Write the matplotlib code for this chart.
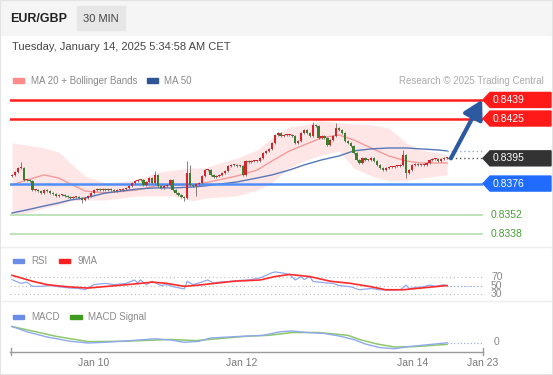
import matplotlib
matplotlib.use("Agg")
import matplotlib.pyplot as plt
from matplotlib.patches import Polygon, Rectangle, FancyArrowPatch
from matplotlib.lines import Line2D

plt.rcParams['font.family'] = ['Liberation Sans', 'DejaVu Sans']

W, H = 553, 375

# --- price data (30 min candles, close values) ---
closes = [
    0.83825, 0.83847, 0.83878, 0.83878, 0.83787, 0.83787, 0.83780, 0.83712, 0.83712, 0.83704,
    0.83689, 0.83712, 0.83704, 0.83689, 0.83682, 0.83667, 0.83674, 0.83674, 0.83667, 0.83659,
    0.83651, 0.83659, 0.83659, 0.83651, 0.83636, 0.83651, 0.83667, 0.83689, 0.83712, 0.83719,
    0.83712, 0.83719, 0.83712, 0.83719, 0.83712, 0.83704, 0.83712, 0.83712, 0.83719, 0.83727,
    0.83742, 0.83765, 0.83780, 0.83787, 0.83787, 0.83749, 0.83772, 0.83802, 0.83765, 0.83825,
    0.83742, 0.83727, 0.83742, 0.83749, 0.83787, 0.83712, 0.83689, 0.83674, 0.83659, 0.83651,
    0.83840, 0.83749, 0.83742, 0.83757, 0.83765, 0.83817, 0.83862, 0.83862, 0.83825, 0.83810,
    0.83817, 0.83825, 0.83840, 0.83855, 0.83893, 0.83900, 0.83900, 0.83893, 0.83893, 0.83825,
    0.83930, 0.83922, 0.83930, 0.83930, 0.83930, 0.83953, 0.83991, 0.84006, 0.84021, 0.84066,
    0.84126, 0.84141, 0.84119, 0.84126, 0.84126, 0.84126, 0.84119, 0.84066, 0.84081, 0.84141,
    0.84164, 0.84141, 0.84119, 0.84202, 0.84194, 0.84104, 0.84119, 0.84104, 0.84051, 0.84089,
    0.84119, 0.84179, 0.84164, 0.84141, 0.84081, 0.84066, 0.84043, 0.83991, 0.83938, 0.83915,
    0.83953, 0.83938, 0.83938, 0.83953, 0.83930, 0.83900, 0.83878, 0.83862, 0.83878, 0.83885,
    0.83885, 0.83893, 0.83893, 0.83900, 0.83976, 0.83840, 0.83862, 0.83900, 0.83908, 0.83900,
    0.83900, 0.83900, 0.83915, 0.83938, 0.83945, 0.83945, 0.83930, 0.83945, 0.83953, 0.83953,
]
first_open = 0.83820
wick = 0.00008
high_wicks = {3: 0.83920, 49: 0.83855, 60: 0.83930, 61: 0.83900, 103: 0.84224, 111: 0.84217, 134: 0.84013}
low_wicks = {24: 0.83614, 59: 0.83629, 63: 0.83667, 135: 0.83802}

# indicators read at these candle positions
ind_idx = [0, 5, 11, 16, 20, 25, 32, 43, 49, 55, 62, 66, 77, 84, 89, 95, 100, 106, 112, 117, 123, 129, 135, 140, 146, 149]
ma50 = [0.83538, 0.83561, 0.83591, 0.83614, 0.83636, 0.83651, 0.83689, 0.83719, 0.83727, 0.83727, 0.83734, 0.83742, 0.83772,
        0.83802, 0.83825, 0.83862, 0.83900, 0.83938, 0.83968, 0.84006, 0.84021, 0.84028, 0.84028, 0.84021, 0.84013, 0.84006]
ma20 = [0.83749, 0.83787, 0.83825, 0.83802, 0.83757, 0.83704, 0.83689, 0.83712, 0.83742, 0.83749, 0.83749, 0.83765, 0.83817,
        0.83862, 0.83930, 0.84006, 0.84051, 0.84104, 0.84126, 0.84089, 0.84028, 0.83968, 0.83930, 0.83915, 0.83915, 0.83915]
bb_upper = [0.84066, 0.84051, 0.84028, 0.83998, 0.83915, 0.83817, 0.83765, 0.83787, 0.83840, 0.83862, 0.83878, 0.83878, 0.83953,
            0.84013, 0.84104, 0.84187, 0.84202, 0.84232, 0.84217, 0.84209, 0.84202, 0.84179, 0.84066, 0.84013, 0.83991, 0.83976]
bb_lower = [0.83523, 0.83538, 0.83576, 0.83599, 0.83629, 0.83636, 0.83636, 0.83667, 0.83667, 0.83667, 0.83629, 0.83651, 0.83667,
            0.83712, 0.83765, 0.83878, 0.83930, 0.83976, 0.84006, 0.83878, 0.83817, 0.83780, 0.83780, 0.83802, 0.83817, 0.83825]

# key levels
resistances = [0.8439, 0.8425]
pivot = 0.8395
support1 = 0.8376
supports_green = [0.8352, 0.8338]

# RSI panel
rsi_idx = [0, 3, 5, 7, 10, 13, 16, 20, 23, 25, 28, 32, 35, 39, 42, 43, 44, 46, 48, 51, 53, 56, 59, 60, 62, 64, 67, 69, 71, 75,
           78, 81, 85, 87, 89, 90, 93, 95, 97, 99, 100, 102, 103, 105, 108, 110, 112, 116, 119, 123, 126, 129, 133, 135, 136,
           139, 141, 143, 145, 148, 149]
rsi = [64, 55, 58, 48, 48, 50, 47, 44, 43, 40, 52, 55, 52, 55, 63, 56, 63, 52, 60, 50, 52, 46, 42, 60, 52, 56, 63, 56, 58, 60,
       62, 63, 68, 74, 80, 82, 79, 76, 63, 71, 64, 71, 60, 58, 56, 55, 50, 47, 40, 43, 40, 39, 40, 51, 43,
       46, 47, 51, 48, 52, 48]
rsi_ma_idx = [0, 7, 12, 19, 26, 36, 44, 48, 53, 59, 64, 76, 85, 90, 95, 102, 109, 116, 123, 128, 134, 140, 149]
rsi_ma = [74, 60, 52, 47, 44, 50, 55, 58, 55, 48, 51, 60, 63, 71, 76, 71, 60, 55, 47, 40, 40, 44, 50]
rsi_levels = [70, 50, 30]

# MACD panel
macd_idx = [0, 5, 12, 20, 26, 32, 44, 49, 54, 59, 64, 68, 76, 86, 92, 96, 101, 107, 112, 117, 121, 126, 131, 136, 141, 146, 149]
macd = [0.000155, 0.000103, 0.000050, 0.000007, -0.000010, -0.000003, 0.000021, 0.000032, 0.000021, -0.000003, 0.000007,
        0.000040, 0.000053, 0.000067, 0.000103, 0.000110, 0.000095, 0.000085, 0.000060, 0.000025, -0.000020, -0.000056,
        -0.000067, -0.000046, -0.000031, -0.000017, -0.000007]
signal_idx = [0, 8, 15, 26, 38, 54, 63, 80, 88, 96, 105, 115, 119, 125, 131, 138, 149]
signal = [0.000155, 0.000103, 0.000057, 0.000004, 0.000007, 0.000025, 0.000014, 0.000057, 0.000067, 0.000095, 0.000095,
          0.000067, 0.000025, -0.000020, -0.000050, -0.000046, -0.000024]

xtick_pos = [27.9, 78.8, 137.3, 161.3]
xtick_labels = ["Jan 10", "Jan 12", "Jan 14", "Jan 23"]
XLIM = (-0.7, 161.3)


def frac(x, y):
    # pixel (from top-left) -> figure fraction
    return x / W, 1 - y / H


def add_axes(top, bottom):
    ax = fig.add_axes([10 / W, 1 - bottom / H, 473 / W, (bottom - top) / H])
    ax.set_xlim(*XLIM)
    ax.axis("off")
    return ax


fig = plt.figure(figsize=(W / 100, H / 100), dpi=100)
fig.patch.set_facecolor("white")

# header band
fig.patches.append(Rectangle((0, 1 - 35 / H), 1, 35 / H, transform=fig.transFigure, color="#f5f5f5", zorder=0))
fig.patches.append(Rectangle(frac(77, 30), 48 / W, 24 / H, transform=fig.transFigure, color="#e6e6e6", zorder=1))
fig.patches.append(Rectangle((0, 0), 1, 1, transform=fig.transFigure, fill=False, ec="#e3e3e3", lw=1.5, zorder=5))
fig.text(*frac(10.5, 18.5), "EUR/GBP", fontsize=9, fontweight="bold", color="#222", va="center")
fig.text(*frac(101, 18.5), "30 MIN", fontsize=8, color="#444", va="center", ha="center")
fig.text(*frac(12, 47.5), "Tuesday, January 14, 2025 5:34:58 AM CET", fontsize=8, color="#444", va="center")

# panel separators
for ysep in [247, 301]:
    fig.add_artist(Line2D([0, 1], [1 - ysep / H] * 2, transform=fig.transFigure, color="#eeeeee", lw=1))

# ---------------- main price panel ----------------
ax = add_axes(88, 245)
ax.set_ylim(0.83297, 0.84480)

ax.fill_between(ind_idx, bb_lower, bb_upper, color="#ffdede", alpha=0.75, lw=0, zorder=1)
ax.plot(ind_idx, ma20, color="#f59a9a", lw=1, zorder=2)
ax.plot(ind_idx, ma50, color="#5676b8", lw=1, zorder=2)
ax.plot([ind_idx[-1], XLIM[1]], [ma50[-1]] * 2, color="#8ea6d6", lw=1, ls=(0, (1, 2)), zorder=2)

for p in resistances:
    ax.axhline(p, color="#ff1f1f", lw=1.8, zorder=3)
ax.axhline(support1, color="#4f8ef7", lw=1.8, zorder=3)
for p in supports_green:
    ax.axhline(p, color="#b9e2b4", lw=1.3, zorder=3)

opens = [first_open] + closes[:-1]
for i, (o, c) in enumerate(zip(opens, closes)):
    hi = high_wicks.get(i, max(o, c) + wick)
    lo = low_wicks.get(i, min(o, c) - wick)
    col = "#d9232a" if c >= o else "#3b7f2d"
    ax.vlines(i, lo, hi, color="#6b6b6b", lw=0.6, zorder=4)
    body = max(abs(c - o), 0.00004)
    ax.bar(i, body, bottom=min(o, c), width=0.8, color=col, lw=0, zorder=5)

last = len(closes) - 1
ax.plot([last, XLIM[1]], [pivot] * 2, color="#555", lw=1, ls=(0, (1, 2)), zorder=3)
ax.add_patch(FancyArrowPatch((last + 1.3, pivot), (XLIM[1] - 0.3, resistances[0] + 0.00002),
                             arrowstyle="-|>,head_length=0.8,head_width=0.45", mutation_scale=14,
                             lw=3, color="#2c5aa0", shrinkA=0, shrinkB=0, zorder=6))

# price label boxes
fig.canvas.draw()


def level_box(p, color):
    yc = H - ax.transData.transform((0, p))[1]
    pts = [(483, yc), (490, yc - 7.5), (551, yc - 7.5), (551, yc + 7.5), (490, yc + 7.5)]
    fig.patches.append(Polygon([frac(*q) for q in pts], closed=True, transform=fig.transFigure, color=color, zorder=6))
    fig.text(*frac(493, yc), f"{p:.4f}", color="white", fontsize=7.5, va="center", zorder=7)


for p in resistances:
    level_box(p, "#ff1a1a")
level_box(pivot, "#333333")
level_box(support1, "#1f6cff")
for p in supports_green:
    yc = H - ax.transData.transform((0, p))[1]
    fig.text(*frac(491, yc), f"{p:.4f}", color="#45a033", fontsize=7.5, va="center")

# main legend
fig.patches.append(Rectangle(frac(12.5, 82.5), 11.5 / W, 4 / H, transform=fig.transFigure, color="#ff8a8a"))
fig.text(*frac(31, 81), "MA 20 + Bollinger Bands", fontsize=7, color="#8a8a8a", va="center")
fig.patches.append(Rectangle(frac(147, 82.5), 11.5 / W, 4 / H, transform=fig.transFigure, color="#2f5597"))
fig.text(*frac(164, 81), "MA 50", fontsize=7, color="#8a8a8a", va="center")
fig.text(*frac(544, 81), "Research \u00a9 2025 Trading Central", fontsize=7, color="#ababab", va="center", ha="right")

# ---------------- RSI panel ----------------
axr = add_axes(268, 298)
axr.set_ylim(20.6, 91.2)
for lv in rsi_levels:
    axr.axhline(lv, color="#bdbdbd", lw=0.8, ls=(0, (1, 2.5)))
axr.plot(rsi_idx, rsi, color="#8fa9f0", lw=0.9)
axr.plot(rsi_ma_idx, rsi_ma, color="#ff2a2a", lw=1.2)
axr.plot([rsi_idx[-1], XLIM[1]], [50, 50], color="#8fa9f0", lw=0.8, ls=(0, (1, 2)))
fig.canvas.draw()
for lv in rsi_levels:
    yc = H - axr.transData.transform((0, lv))[1]
    fig.text(*frac(491, yc), str(lv), fontsize=7.5, color="#8a8a8a", va="center")

fig.patches.append(Rectangle(frac(12.5, 263), 11.5 / W, 4 / H, transform=fig.transFigure, color="#6a8de8"))
fig.text(*frac(31, 261.5), "RSI", fontsize=7, color="#8a8a8a", va="center")
fig.patches.append(Rectangle(frac(58.5, 263), 11.5 / W, 4 / H, transform=fig.transFigure, color="#ff1f1f"))
fig.text(*frac(77, 261.5), "9MA", fontsize=7, color="#8a8a8a", va="center")

# ---------------- MACD panel ----------------
axm = add_axes(322, 352)
axm.set_ylim(-0.0001, 0.0002)
axm.plot(signal_idx, signal, color="#8cc86a", lw=1.1)
axm.plot(macd_idx, macd, color="#8fa9f0", lw=1.0)
axm.plot([macd_idx[-1], XLIM[1]], [macd[-1]] * 2, color="#8fa9f0", lw=0.8, ls=(0, (1, 2)))
fig.canvas.draw()
yz = H - axm.transData.transform((0, 0))[1]
fig.text(*frac(494, yz), "0", fontsize=7.5, color="#8a8a8a", va="center")

fig.patches.append(Rectangle(frac(12.5, 319), 11.5 / W, 4 / H, transform=fig.transFigure, color="#6a8de8"))
fig.text(*frac(31, 317.5), "MACD", fontsize=7, color="#8a8a8a", va="center")
fig.patches.append(Rectangle(frac(70, 319), 11.5 / W, 4 / H, transform=fig.transFigure, color="#3f9a1e"))
fig.text(*frac(88, 317.5), "MACD Signal", fontsize=7, color="#8a8a8a", va="center")

# time axis
fig.add_artist(Line2D([10 / W, 483 / W], [1 - 352 / H] * 2, transform=fig.transFigure, color="#9a9a9a", lw=1))
for xe in [10.5, 482.5]:
    fig.add_artist(Line2D([xe / W] * 2, [1 - 348 / H, 1 - 355 / H], transform=fig.transFigure, color="#9a9a9a", lw=1))
for pos, lab in zip(xtick_pos, xtick_labels):
    xp = axm.transData.transform((pos, 0))[0]
    fig.text(xp / W, 1 - 363.5 / H, lab, fontsize=7.5, color="#7a7a7a", ha="center", va="center")

fig.savefig("out.png", dpi=100)
